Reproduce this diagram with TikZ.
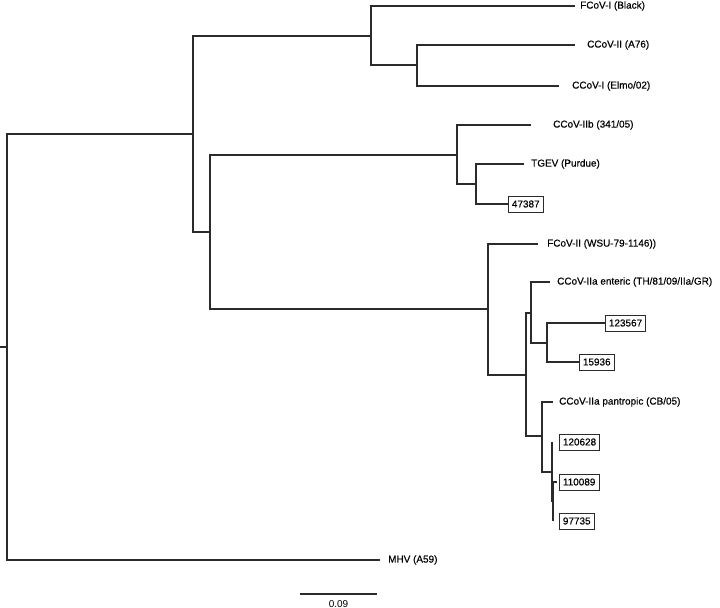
\documentclass[tikz,border=0pt]{standalone}
\usepackage{fontspec}
\setmainfont{Liberation Sans}
\newfontfamily\taxafont[FakeBold=0.45]{Liberation Sans}
\usepackage{tikz}
\usetikzlibrary{positioning}
\definecolor{branchcol}{HTML}{2B2B2B}

\begin{document}
\begin{tikzpicture}[
  x=1bp,y=-1bp,
  branch/.style={draw=branchcol,line width=1.4bp},
  taxon/.style={inner sep=0pt,font=\taxafont\fontsize{10}{12}\selectfont},
  isolate/.style={draw=branchcol,line width=0.8bp,inner xsep=3.5bp,inner ysep=0pt,
    minimum height=16bp,font=\taxafont\fontsize{10}{12}\selectfont}
]
\useasboundingbox (0,0) rectangle (720,608);
% internal nodes
\coordinate (stub) at (0,347);
\coordinate (root) at (7,347);
\coordinate (nA) at (193,134);
\coordinate (nFel) at (371,36);
\coordinate (nCan) at (417,65);
\coordinate (nB) at (210,232);
\coordinate (nTge) at (457,155);
\coordinate (nPur) at (476,184);
\coordinate (nII) at (488,309);
\coordinate (nIIa) at (526,375);
\coordinate (nEnt) at (531,313);
\coordinate (nIso) at (547,343);
\coordinate (nPan) at (542,436);
\coordinate (nSub) at (552,472);
\coordinate (nTwin) at (553,501);
% tips
\coordinate (tBlack) at (575,6);
\coordinate (tA76) at (575,45);
\coordinate (tElmo) at (559,86);
\coordinate (tIIb) at (531,125);
\coordinate (tTGEV) at (524,164);
\coordinate (t47387) at (508,204);
\coordinate (tWSU) at (538,244);
\coordinate (tTH) at (550,282);
\coordinate (t123567) at (605,323);
\coordinate (t15936) at (579,362);
\coordinate (tCB) at (553,402);
\coordinate (t120628) at (552,442);
\coordinate (t110089) at (557,482);
\coordinate (t97735) at (553,521);
\coordinate (tMHV) at (380,560);
% labels
\node[taxon,right=5bp of tBlack] (lBlack) {FCoV-I (Black)};
\node[taxon,right=12bp of tA76] (lA76) {CCoV-II (A76)};
\node[taxon,right=13bp of tElmo] (lElmo) {CCoV-I (Elmo/02)};
\node[taxon,right=22bp of tIIb] (lIIb) {CCoV-IIb (341/05)};
\node[taxon,right=7bp of tTGEV] (lTGEV) {TGEV (Purdue)};
\node[isolate,right=0bp of t47387] (l47387) {47387};
\node[taxon,right=9bp of tWSU] (lWSU) {FCoV-II (WSU-79-1146))};
\node[taxon,right=7bp of tTH] (lTH) {CCoV-IIa enteric (TH/81/09/IIa/GR)};
\node[isolate,right=0bp of t123567] (l123567) {123567};
\node[isolate,right=0bp of t15936] (l15936) {15936};
\node[taxon,right=6bp of tCB] (lCB) {CCoV-IIa pantropic (CB/05)};
\node[isolate,right=7bp of t120628] (l120628) {120628};
\node[isolate,right=2bp of t110089] (l110089) {110089};
\node[isolate,right=6bp of t97735] (l97735) {97735};
\node[taxon,right=8bp of tMHV] (lMHV) {MHV (A59)};
% branches
\draw[branch] (stub) -- (root);
\draw[branch] (root) |- (nA);
\draw[branch] (root) |- (tMHV);
\draw[branch] (nA) |- (nFel);
\draw[branch] (nA) |- (nB);
\draw[branch] (nFel) |- (tBlack);
\draw[branch] (nFel) |- (nCan);
\draw[branch] (nCan) |- (tA76);
\draw[branch] (nCan) |- (tElmo);
\draw[branch] (nB) |- (nTge);
\draw[branch] (nB) |- (nII);
\draw[branch] (nTge) |- (tIIb);
\draw[branch] (nTge) |- (nPur);
\draw[branch] (nPur) |- (tTGEV);
\draw[branch] (nPur) |- (t47387);
\draw[branch] (nII) |- (tWSU);
\draw[branch] (nII) |- (nIIa);
\draw[branch] (nIIa) |- (nEnt);
\draw[branch] (nIIa) |- (nPan);
\draw[branch] (nEnt) |- (tTH);
\draw[branch] (nEnt) |- (nIso);
\draw[branch] (nIso) |- (t123567);
\draw[branch] (nIso) |- (t15936);
\draw[branch] (nPan) |- (tCB);
\draw[branch] (nPan) |- (nSub);
\draw[branch] (nSub) |- (t120628);
\draw[branch] (nSub) |- (nTwin);
\draw[branch] (nTwin) |- (t110089);
\draw[branch] (nTwin) |- (t97735);
% scale bar
\coordinate (barL) at (300,594);
\coordinate (barR) at (377,594);
\coordinate (barM) at (338.5,594);
\draw[branch] (barL) -- (barR);
\node[inner sep=0pt,font=\fontsize{10}{12}\selectfont,below=6bp of barM] (barLbl) {0.09};
\end{tikzpicture}
\end{document}
